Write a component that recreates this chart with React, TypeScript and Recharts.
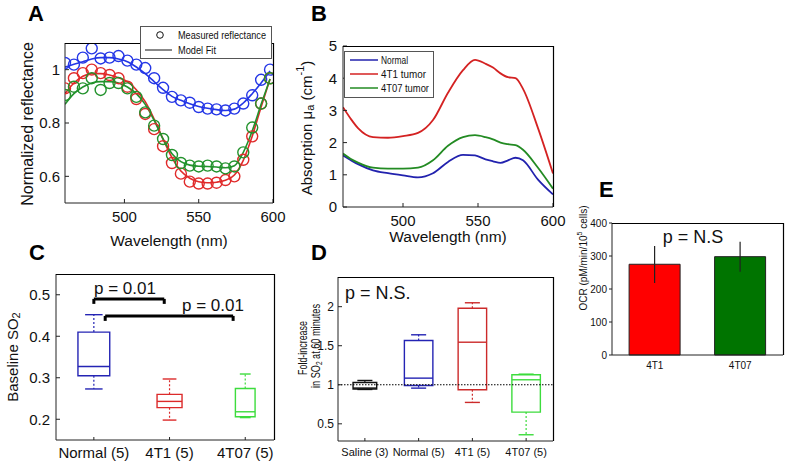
import React from 'react';
import {
  LineChart, Line, XAxis, YAxis, ComposedChart, ReferenceArea, ReferenceLine,
  BarChart, Bar, ErrorBar, Cell,
} from 'recharts';

const W = 785;
const H = 461;
const FONT = '"Liberation Sans", Arial, Helvetica, sans-serif';
const AX = '#222';

// ---------- Panel A: normalized reflectance ----------
const wavelengthsA = [460, 466, 472, 478, 484, 490, 496, 502, 508, 514, 520, 526, 532, 538, 544, 550, 556, 562, 568, 574, 580, 586, 592, 598];
const normalMeasured = [1.025, 1.019, 1.045, 1.08, 1.042, 1.045, 1.051, 1.034, 1.019, 1.006, 0.968, 0.932, 0.898, 0.885, 0.876, 0.86, 0.854, 0.851, 0.847, 0.854, 0.873, 0.904, 0.962, 1.0];
const t4T1Measured = [0.93, 0.968, 0.987, 1.0, 0.987, 0.98, 0.968, 0.936, 0.89, 0.834, 0.777, 0.713, 0.65, 0.61, 0.58, 0.573, 0.573, 0.576, 0.586, 0.6, 0.662, 0.75, 0.873, 0.968];
const t4T07Measured = [0.905, 0.936, 0.93, 0.968, 0.924, 0.95, 0.95, 0.93, 0.898, 0.84, 0.79, 0.74, 0.68, 0.65, 0.64, 0.637, 0.64, 0.637, 0.63, 0.637, 0.69, 0.783, 0.873, 0.968];
const normalFit = [1.01, 1.02, 1.03, 1.04, 1.045, 1.045, 1.04, 1.03, 1.01, 0.985, 0.955, 0.925, 0.9, 0.885, 0.872, 0.862, 0.855, 0.85, 0.847, 0.852, 0.875, 0.91, 0.95, 0.995];
const t4T1Fit = [0.91, 0.95, 0.975, 0.985, 0.985, 0.98, 0.97, 0.955, 0.925, 0.88, 0.815, 0.74, 0.67, 0.62, 0.593, 0.58, 0.576, 0.578, 0.585, 0.605, 0.66, 0.75, 0.86, 0.965];
const t4T07Fit = [0.87, 0.91, 0.935, 0.95, 0.955, 0.955, 0.95, 0.935, 0.91, 0.87, 0.81, 0.74, 0.685, 0.655, 0.642, 0.638, 0.637, 0.635, 0.632, 0.64, 0.69, 0.77, 0.87, 0.965];
const ticksAX = [500, 550, 600];
const ticksAY = [0.6, 0.8, 1];

// ---------- Panel B: absorption ----------
const wavelengthsB = [460, 465, 470, 480, 490, 500, 510, 520, 530, 540, 548, 555, 560, 565, 570, 575, 580, 590, 600];
const normalAbs = [1.6, 1.46, 1.33, 1.14, 1.05, 0.98, 0.92, 1.05, 1.4, 1.62, 1.6, 1.48, 1.42, 1.37, 1.45, 1.53, 1.45, 0.85, 0.39];
const t4T1Abs = [3.1, 2.75, 2.45, 2.17, 2.15, 2.2, 2.3, 2.7, 3.55, 4.25, 4.57, 4.45, 4.33, 4.15, 4.03, 4.0, 3.67, 2.45, 1.04];
const t4T07Abs = [1.66, 1.5, 1.38, 1.22, 1.19, 1.19, 1.22, 1.45, 1.9, 2.17, 2.23, 2.17, 2.1, 2.0, 1.95, 1.92, 1.78, 1.22, 0.57];
const ticksBY = [0, 1, 2, 3, 4, 5];

// ---------- Panel C: baseline SO2 box plot ----------
const cCategories = ['Normal (5)', '4T1 (5)', '4T07 (5)'];
const cLower = [0.273, 0.198, 0.204];
const cQ1 = [0.305, 0.228, 0.206];
const cMedian = [0.327, 0.243, 0.218];
const cQ3 = [0.41, 0.26, 0.274];
const cUpper = [0.452, 0.297, 0.309];
const cColors = ['#2424b4', '#dc2a2a', '#3ddc3d'];
const cHalfWidth = [0.21, 0.165, 0.13];
const ticksCY = [0.2, 0.3, 0.4, 0.5];

// ---------- Panel D: fold increase box plot ----------
const dCategories = ['Saline (3)', 'Normal (5)', '4T1 (5)', '4T07 (5)'];
const dLower = [0.94, 0.957, 0.774, 0.36];
const dQ1 = [0.945, 0.99, 0.936, 0.65];
const dMedian = [0.958, 1.085, 1.545, 1.064];
const dQ3 = [1.03, 1.567, 1.98, 1.128];
const dUpper = [1.055, 1.64, 2.05, 1.136];
const dColors = ['#111111', '#2424b4', '#cc2a2a', '#3ddc3d'];
const ticksDY = [0.5, 1, 1.5, 2];

// ---------- Panel E: OCR bars ----------
const eCategories = ['4T1', '4T07'];
const eOCR = [275, 298];
const eErrLow = [57, 46];
const eErrHigh = [55, 45];
const eColors = ['#ff0000', '#007400'];
const ticksEY = [0, 100, 200, 300, 400];

// layout: plot rectangles of the five panels (left, top, right, bottom)
const PLOT_A = [65, 43, 273, 203];
const PLOT_B = [343, 46, 553, 207];
const PLOT_C = [56, 274, 274, 440];
const PLOT_D = [338, 277, 553, 441];
const PLOT_E = [612, 223, 783, 355];

const abs: React.CSSProperties = { position: 'absolute', left: 0, top: 0, width: W, height: H };
const tickStyle = (size: number) => ({ fontSize: size, fill: '#111', fontFamily: FONT });

function plotMargin(p: number[], yW: number, xH: number) {
  const [l, t, r, b] = p;
  return { left: l - yW, top: t, right: W - r, bottom: H - b - xH };
}

function PanelA() {
  const data = wavelengthsA.map((w, i) => ({
    w, nm: normalMeasured[i], tm: t4T1Measured[i], gm: t4T07Measured[i],
    nf: normalFit[i], tf: t4T1Fit[i], gf: t4T07Fit[i],
  }));
  const colors = ['#2436e6', '#e02a2a', '#22922c'];
  return (
    <div style={abs}>
      <LineChart width={W} height={H} data={data} margin={plotMargin(PLOT_A, 40, 30)}>
        <XAxis dataKey="w" type="number" domain={[460, 600]} ticks={ticksAX} allowDataOverflow height={30}
          tickSize={-4} tickMargin={12} stroke={AX} tick={tickStyle(15)} />
        <YAxis type="number" domain={[0.5, 1.1]} ticks={ticksAY} allowDataOverflow width={40}
          tickSize={-4} tickMargin={9} stroke={AX} tick={tickStyle(15)} />
        <Line dataKey="nf" type="monotone" stroke={colors[0]} strokeWidth={1.6} dot={false} isAnimationActive={false} />
        <Line dataKey="tf" type="monotone" stroke={colors[1]} strokeWidth={1.6} dot={false} isAnimationActive={false} />
        <Line dataKey="gf" type="monotone" stroke={colors[2]} strokeWidth={1.6} dot={false} isAnimationActive={false} />
        <Line dataKey="nm" stroke="none" dot={{ r: 5.5, stroke: colors[0], fill: 'none', strokeWidth: 1.4 }} activeDot={false} isAnimationActive={false} />
        <Line dataKey="tm" stroke="none" dot={{ r: 5.5, stroke: colors[1], fill: 'none', strokeWidth: 1.4 }} activeDot={false} isAnimationActive={false} />
        <Line dataKey="gm" stroke="none" dot={{ r: 5.5, stroke: colors[2], fill: 'none', strokeWidth: 1.4 }} activeDot={false} isAnimationActive={false} />
      </LineChart>
    </div>
  );
}

function PanelB() {
  const data = wavelengthsB.map((w, i) => ({ w, n: normalAbs[i], t: t4T1Abs[i], g: t4T07Abs[i] }));
  return (
    <div style={abs}>
      <LineChart width={W} height={H} data={data} margin={plotMargin(PLOT_B, 40, 30)}>
        <XAxis dataKey="w" type="number" domain={[460, 600]} ticks={ticksAX} allowDataOverflow height={30}
          tickSize={-4} tickMargin={12} stroke={AX} tick={tickStyle(15)} />
        <YAxis type="number" domain={[0, 5]} ticks={ticksBY} allowDataOverflow width={40}
          tickSize={-4} tickMargin={10} stroke={AX} tick={tickStyle(15)} />
        <Line dataKey="n" type="monotone" stroke="#2222ae" strokeWidth={1.8} dot={false} isAnimationActive={false} />
        <Line dataKey="t" type="monotone" stroke="#d42222" strokeWidth={1.8} dot={false} isAnimationActive={false} />
        <Line dataKey="g" type="monotone" stroke="#238b23" strokeWidth={1.8} dot={false} isAnimationActive={false} />
      </LineChart>
    </div>
  );
}

function boxElements(prefix: string, pos: number, lo: number, q1: number, med: number, q3: number, hi: number,
  color: string, hw: number, capHw: number, sw = 1.4) {
  return [
    <ReferenceArea key={prefix + 'box'} x1={pos - hw} x2={pos + hw} y1={q1} y2={q3} stroke={color} strokeWidth={sw}
      fill="none" ifOverflow="visible" />,
    <ReferenceLine key={prefix + 'med'} segment={[{ x: pos - hw, y: med }, { x: pos + hw, y: med }]} stroke={color} strokeWidth={sw} ifOverflow="visible" />,
    <ReferenceLine key={prefix + 'wu'} segment={[{ x: pos, y: q3 }, { x: pos, y: hi }]} stroke={color} strokeWidth={1.2} strokeDasharray="2 2" ifOverflow="visible" />,
    <ReferenceLine key={prefix + 'wl'} segment={[{ x: pos, y: q1 }, { x: pos, y: lo }]} stroke={color} strokeWidth={1.2} strokeDasharray="2 2" ifOverflow="visible" />,
    <ReferenceLine key={prefix + 'cu'} segment={[{ x: pos - capHw, y: hi }, { x: pos + capHw, y: hi }]} stroke={color} strokeWidth={sw} ifOverflow="visible" />,
    <ReferenceLine key={prefix + 'cl'} segment={[{ x: pos - capHw, y: lo }, { x: pos + capHw, y: lo }]} stroke={color} strokeWidth={sw} ifOverflow="visible" />,
  ];
}

function PanelC() {
  const positions = cCategories.map((_, i) => i + 1);
  const data = positions.map((p, i) => ({ p, m: cMedian[i] }));
  const dom: [number, number] = [0.5, 3.38];
  const ydom: [number, number] = [0.15, 0.55];
  return (
    <div style={abs}>
      <ComposedChart width={W} height={H} data={data} margin={plotMargin(PLOT_C, 40, 30)}>
        <XAxis dataKey="p" type="number" domain={dom} ticks={positions} allowDataOverflow height={30}
          tickSize={-3} tickMargin={10} stroke={AX} tick={tickStyle(15)} tickFormatter={(v: number) => cCategories[v - 1] ?? ''} />
        <YAxis type="number" domain={ydom} ticks={ticksCY} allowDataOverflow width={40}
          tickSize={-4} tickMargin={10} stroke={AX} tick={tickStyle(15)} />
        {positions.flatMap((p, i) =>
          boxElements('c' + i, p, cLower[i], cQ1[i], cMedian[i], cQ3[i], cUpper[i], cColors[i], cHalfWidth[i], cHalfWidth[i] * 0.55))}
        <ReferenceLine segment={[{ x: 1, y: 0.478 }, { x: 1, y: 0.49 }]} stroke="#000" strokeWidth={3} ifOverflow="visible" />
        <ReferenceLine segment={[{ x: 1, y: 0.49 }, { x: 1.93, y: 0.49 }]} stroke="#000" strokeWidth={3} ifOverflow="visible" />
        <ReferenceLine segment={[{ x: 1.93, y: 0.49 }, { x: 1.93, y: 0.478 }]} stroke="#000" strokeWidth={3} ifOverflow="visible" />
        <ReferenceLine segment={[{ x: 1.15, y: 0.437 }, { x: 1.15, y: 0.449 }]} stroke="#000" strokeWidth={3} ifOverflow="visible" />
        <ReferenceLine segment={[{ x: 1.15, y: 0.449 }, { x: 2.84, y: 0.449 }]} stroke="#000" strokeWidth={3} ifOverflow="visible" />
        <ReferenceLine segment={[{ x: 2.84, y: 0.449 }, { x: 2.84, y: 0.437 }]} stroke="#000" strokeWidth={3} ifOverflow="visible" />
      </ComposedChart>
    </div>
  );
}

function PanelD() {
  const positions = dCategories.map((_, i) => i + 1);
  const data = positions.map((p, i) => ({ p, m: dMedian[i] }));
  const dom: [number, number] = [0.5, 4.5];
  const ydom: [number, number] = [0.28, 2.38];
  return (
    <div style={abs}>
      <ComposedChart width={W} height={H} data={data} margin={plotMargin(PLOT_D, 40, 30)}>
        <XAxis dataKey="p" type="number" domain={dom} ticks={positions} allowDataOverflow height={30}
          tickSize={-3} tickMargin={10} stroke={AX} tick={tickStyle(11)} tickFormatter={(v: number) => dCategories[v - 1] ?? ''} />
        <YAxis type="number" domain={ydom} ticks={ticksDY} allowDataOverflow width={40}
          tickSize={-4} tickMargin={8} stroke={AX} tick={tickStyle(12)} />
        <ReferenceLine y={1} stroke="#000" strokeWidth={1.2} strokeDasharray="1.5 1.5" ifOverflow="visible" />
        {positions.flatMap((p, i) =>
          boxElements('d' + i, p, dLower[i], dQ1[i], dMedian[i], dQ3[i], dUpper[i], dColors[i], i === 0 ? 0.22 : 0.265, 0.14))}
      </ComposedChart>
    </div>
  );
}

function PanelE() {
  const data = eCategories.map((c, i) => ({ c, v: eOCR[i], err: [eErrLow[i], eErrHigh[i]] }));
  return (
    <div style={abs}>
      <BarChart width={W} height={H} data={data} margin={plotMargin(PLOT_E, 30, 20)} barCategoryGap="20%">
        <XAxis dataKey="c" height={20} tickSize={0} tickMargin={7} stroke={AX} tick={tickStyle(10)} tickLine={false} />
        <YAxis type="number" domain={[0, 400]} ticks={ticksEY} width={30} tickSize={3} tickMargin={2} stroke={AX} tick={tickStyle(10)} />
        <Bar dataKey="v" stroke="#222" strokeWidth={1} isAnimationActive={false}>
          {data.map((d, i) => <Cell key={d.c} fill={eColors[i]} />)}
          <ErrorBar dataKey="err" width={0} stroke="#222" strokeWidth={1.2} direction="y" />
        </Bar>
      </BarChart>
    </div>
  );
}

function Labels() {
  const t = { fontFamily: FONT, fill: '#111' } as const;
  const letter = { fontFamily: FONT, fontWeight: 700, fontSize: 22, fill: '#000' } as const;
  return (
    <svg style={abs} width={W} height={H}>
      <text x={28} y={21} {...letter}>A</text>
      <text x={311} y={21} {...letter}>B</text>
      <text x={29} y={260} {...letter}>C</text>
      <text x={311} y={260} {...letter}>D</text>
      <text x={599} y={197} {...letter}>E</text>

      <text transform="translate(27,124) rotate(-90)" textAnchor="middle" dominantBaseline="central" fontSize={16} {...t}>Normalized reflectance</text>
      <text x={169} y={240} textAnchor="middle" dominantBaseline="central" fontSize={15.5} {...t}>Wavelength (nm)</text>

      <text transform="translate(306,128) rotate(-90)" textAnchor="middle" dominantBaseline="central" fontSize={15} {...t}>
        Absorption μ<tspan fontSize={11} dy={4}>a</tspan><tspan dy={-4}> (cm</tspan><tspan fontSize={11} dy={-6}>-1</tspan><tspan dy={6}>)</tspan>
      </text>
      <text x={448} y={236} textAnchor="middle" dominantBaseline="central" fontSize={15.5} {...t}>Wavelength (nm)</text>

      <text transform="translate(12,357) rotate(-90)" textAnchor="middle" dominantBaseline="central" fontSize={15} {...t}>
        Baseline SO<tspan fontSize={11} dy={4}>2</tspan>
      </text>
      <text x={125} y={288} textAnchor="middle" dominantBaseline="central" fontSize={17} {...t}>p = 0.01</text>
      <text x={213} y={305} textAnchor="middle" dominantBaseline="central" fontSize={17} {...t}>p = 0.01</text>

      <text transform="translate(303,348) rotate(-90)" textAnchor="middle" dominantBaseline="central" fontSize={12.5} {...t}
        textLength={54} lengthAdjust="spacingAndGlyphs">Fold-increase</text>
      <text transform="translate(316,346) rotate(-90)" textAnchor="middle" dominantBaseline="central" fontSize={12.5} {...t}
        textLength={84} lengthAdjust="spacingAndGlyphs">
        in SO<tspan fontSize={9} dy={3}>2</tspan><tspan dy={-3}> at 60 minutes</tspan>
      </text>
      <text x={345} y={293} dominantBaseline="central" fontSize={18} {...t}>p = N.S.</text>

      <text transform="translate(583,258) rotate(-90)" textAnchor="middle" dominantBaseline="central" fontSize={10} {...t}>
        OCR (pM/min/10<tspan fontSize={7} dy={-4}>5</tspan><tspan dy={4}> cells)</tspan>
      </text>
      <text x={693} y={237} textAnchor="middle" dominantBaseline="central" fontSize={18} {...t}>p = N.S</text>
    </svg>
  );
}

// top and right edges of each axes box, from the same plot rectangles used for the chart margins
function Frames() {
  const plots = [PLOT_A, PLOT_B, PLOT_C, PLOT_D, PLOT_E];
  return (
    <svg style={{ position: 'absolute', left: 0, top: 0, pointerEvents: 'none' }} width={W} height={H}>
      {plots.map((p, i) => (
        <g key={i}>
          <line x1={p[0]} y1={p[1] + 0.5} x2={p[2] + 0.5} y2={p[1] + 0.5} stroke="#000" strokeWidth={1.2} />
          <line x1={p[2] + 0.5} y1={p[1]} x2={p[2] + 0.5} y2={p[3]} stroke="#000" strokeWidth={1.2} />
        </g>
      ))}
    </svg>
  );
}

function LegendA() {
  const s = { fontSize: 11, fontFamily: FONT, fill: '#111', lengthAdjust: 'spacingAndGlyphs' } as const;
  return (
    <svg style={{ position: 'absolute', left: 140, top: 26, overflow: 'visible' }} width={132} height={33}>
      <rect x={0.5} y={0.5} width={131} height={32} fill="#fff" stroke="#555" strokeWidth={1} />
      <circle cx={20} cy={9} r={3.3} fill="none" stroke="#111" strokeWidth={1} />
      <text x={38} y={9} dominantBaseline="central" textLength={88} {...s}>Measured reflectance</text>
      <line x1={5} y1={24} x2={32} y2={24} stroke="#111" strokeWidth={1} />
      <text x={38} y={24} dominantBaseline="central" textLength={38} {...s}>Model Fit</text>
    </svg>
  );
}

function LegendB() {
  const items = [
    { name: 'Normal', color: '#2222ae', len: 27 },
    { name: '4T1 tumor', color: '#d42222', len: 45 },
    { name: '4T07 tumor', color: '#238b23', len: 48 },
  ];
  return (
    <svg style={{ position: 'absolute', left: 344, top: 51, overflow: 'visible' }} width={90} height={47}>
      <rect x={0.5} y={0.5} width={89} height={46} fill="#fff" stroke="#555" strokeWidth={1} />
      {items.map((it, i) => (
        <g key={it.name}>
          <line x1={6} y1={9 + i * 14} x2={34} y2={9 + i * 14} stroke={it.color} strokeWidth={1.5} />
          <text x={37} y={9 + i * 14} dominantBaseline="central" fontSize={11} fontFamily={FONT} fill="#111"
            textLength={it.len} lengthAdjust="spacingAndGlyphs">{it.name}</text>
        </g>
      ))}
    </svg>
  );
}

export default function App() {
  return (
    <div style={{ position: 'absolute', left: 0, top: 0, width: W, height: H }}>
      <Labels />
      <PanelA />
      <PanelB />
      <PanelC />
      <PanelD />
      <PanelE />
      <Frames />
      <LegendA />
      <LegendB />
    </div>
  );
}
